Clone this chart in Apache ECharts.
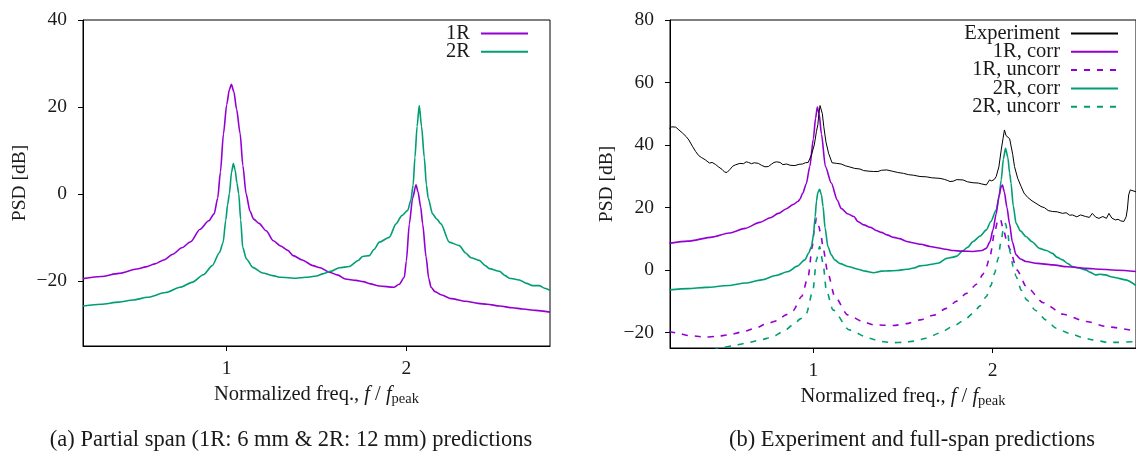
<!DOCTYPE html>
<html>
<head>
<meta charset="utf-8">
<script src="https://cdn.jsdelivr.net/npm/echarts@6/dist/echarts.min.js"></script>
<style>
html,body{margin:0;padding:0;background:#fff;}
#c{width:1136px;height:454px;}
</style>
</head>
<body>
<div id="c"></div>
<script>
// ---------- Panel (a): partial span ----------
const a1R_x = [0.20,0.30,0.40,0.50,0.55,0.60,0.65,0.70,0.75,0.80,0.85,0.90,0.93,0.95,0.965,0.982,1.00,1.015,1.026,1.04,1.055,1.075,1.09,1.108,1.13,1.15,1.18,1.22,1.26,1.30,1.34,1.37,1.42,1.48,1.52,1.57,1.62,1.66,1.72,1.76,1.80,1.85,1.93,1.96,1.989,2.00,2.017,2.035,2.054,2.065,2.08,2.091,2.11,2.125,2.138,2.16,2.193,2.25,2.33,2.40,2.45,2.52,2.59,2.65,2.72,2.80];
const a1R_y = [-19.5,-19.0,-18.3,-17.3,-16.8,-16.1,-15.2,-13.9,-12.4,-11.0,-8.2,-6.2,-4.6,-1.0,5.0,13.8,20.5,24.0,25.2,23.5,19.5,13.8,6.5,0.0,-4.0,-5.8,-6.8,-8.5,-10.8,-12.0,-13.0,-14.2,-15.2,-16.5,-17.0,-18.0,-18.7,-19.6,-19.9,-20.2,-20.7,-21.2,-21.5,-20.8,-19.2,-15.5,-6.9,-1.0,2.1,0.5,-3.0,-6.9,-14.5,-19.5,-21.5,-22.5,-23.2,-24.1,-24.7,-25.2,-25.4,-25.8,-26.2,-26.5,-26.8,-27.2];
const a2R_x = [0.20,0.30,0.40,0.48,0.56,0.66,0.74,0.81,0.87,0.92,0.96,0.98,0.995,1.005,1.015,1.027,1.037,1.047,1.057,1.067,1.078,1.089,1.11,1.145,1.20,1.256,1.30,1.386,1.44,1.50,1.534,1.58,1.627,1.683,1.73,1.757,1.794,1.82,1.85,1.905,1.943,1.975,2.008,2.025,2.038,2.048,2.06,2.072,2.085,2.10,2.112,2.122,2.146,2.17,2.193,2.239,2.295,2.33,2.36,2.406,2.44,2.462,2.518,2.55,2.573,2.629,2.67,2.703,2.74,2.77,2.80];
const a2R_y = [-25.8,-25.4,-24.9,-24.4,-23.8,-22.7,-21.5,-20.3,-18.6,-16.5,-13.5,-11.2,-6.0,-2.5,0.0,5.0,7.0,5.5,2.5,0.0,-6.0,-12.3,-15.0,-16.9,-18.2,-18.8,-19.2,-19.4,-19.2,-18.9,-18.4,-17.8,-17.0,-16.7,-15.4,-14.4,-14.2,-12.8,-11.1,-10.0,-6.9,-5.0,-3.8,-1.5,2.0,8.4,15.5,20.3,15.5,8.4,2.0,-1.0,-4.6,-5.8,-6.9,-11.1,-11.9,-13.6,-14.7,-15.3,-16.5,-17.2,-17.8,-18.8,-19.4,-19.8,-20.6,-21.1,-21.1,-21.7,-22.2];

// ---------- Panel (b): experiment and full span ----------
const bExp_x = [0.196,0.21,0.232,0.25,0.27,0.29,0.305,0.325,0.343,0.36,0.375,0.398,0.42,0.435,0.453,0.47,0.49,0.505,0.518,0.535,0.55,0.564,0.59,0.61,0.625,0.638,0.655,0.67,0.693,0.71,0.73,0.749,0.765,0.78,0.795,0.814,0.83,0.85,0.87,0.897,0.92,0.94,0.955,0.971,0.989,1.005,1.017,1.025,1.03,1.037,1.043,1.05,1.058,1.07,1.085,1.104,1.13,1.155,1.18,1.20,1.23,1.26,1.28,1.31,1.336,1.36,1.38,1.41,1.44,1.47,1.503,1.53,1.56,1.595,1.63,1.66,1.706,1.73,1.75,1.762,1.78,1.80,1.835,1.86,1.891,1.92,1.94,1.965,1.975,1.983,1.995,2.01,2.02,2.035,2.048,2.058,2.066,2.075,2.085,2.095,2.103,2.112,2.122,2.14,2.159,2.175,2.196,2.22,2.242,2.27,2.29,2.31,2.334,2.36,2.39,2.41,2.43,2.445,2.47,2.49,2.519,2.54,2.556,2.575,2.593,2.615,2.635,2.649,2.665,2.685,2.70,2.715,2.732,2.745,2.752,2.759,2.768,2.777,2.80];
const bExp_y = [45.3,45.8,45.7,44.8,43.8,42.7,41.6,39.6,37.9,36.6,36.0,35.2,34.2,34.4,33.8,33.0,32.2,31.3,31.2,32.2,33.2,33.6,34.1,34.0,34.6,34.4,34.0,34.3,34.1,33.5,33.0,33.1,33.8,34.4,34.6,34.4,33.7,33.9,33.5,33.4,33.8,33.9,34.3,34.4,36.8,40.0,44.3,46.5,49.6,52.6,53.1,50.0,45.9,41.0,37.3,34.3,34.1,33.9,33.3,33.0,32.5,32.3,31.8,31.6,31.5,31.5,31.9,32.0,31.6,31.2,30.9,30.5,30.3,29.9,29.8,29.5,29.3,29.0,28.6,28.3,28.4,28.9,28.8,28.2,27.9,27.8,27.5,27.2,27.7,28.8,28.5,29.0,29.9,33.0,38.4,42.0,44.8,43.0,42.5,42.0,41.6,37.0,33.1,29.3,26.7,24.6,23.2,22.1,21.3,20.3,19.9,19.0,18.7,18.6,18.1,18.3,17.5,17.6,17.0,17.6,17.1,16.8,18.1,16.9,16.5,17.1,16.5,18.1,16.6,16.0,16.2,15.7,15.5,17.0,19.5,24.0,25.6,25.3,25.0];
const b1Rc_x = [0.196,0.30,0.435,0.53,0.62,0.70,0.76,0.804,0.85,0.89,0.915,0.925,0.94,0.96,0.98,1.00,1.012,1.022,1.032,1.045,1.067,1.10,1.133,1.155,1.19,1.226,1.248,1.281,1.32,1.35,1.38,1.41,1.45,1.48,1.521,1.56,1.60,1.651,1.70,1.74,1.78,1.83,1.891,1.94,1.965,1.985,2.002,2.02,2.035,2.047,2.055,2.065,2.08,2.094,2.11,2.131,2.155,2.186,2.25,2.334,2.42,2.519,2.60,2.70,2.80];
const b1Rc_y = [8.5,9.2,10.5,11.8,13.3,15.2,16.7,18.1,19.6,21.0,22.0,22.6,24.5,27.5,33.1,42.0,48.5,52.1,50.0,43.5,33.1,27.8,22.4,19.7,18.0,17.1,15.5,14.4,13.6,12.6,12.0,11.2,10.4,10.0,9.1,8.6,8.2,7.5,7.0,6.6,6.2,6.0,5.9,6.2,6.9,9.0,12.8,18.0,23.5,26.5,27.2,25.0,20.0,14.9,9.0,4.8,3.5,2.7,2.1,1.6,1.0,0.5,0.2,-0.1,-0.5];
const b1Ru_x = [0.196,0.25,0.30,0.398,0.46,0.527,0.60,0.675,0.74,0.795,0.85,0.887,0.934,0.971,0.994,1.006,1.017,1.03,1.044,1.054,1.081,1.119,1.192,1.275,1.336,1.447,1.52,1.595,1.67,1.743,1.80,1.854,1.913,1.945,1.965,1.987,2.011,2.03,2.043,2.06,2.08,2.098,2.135,2.19,2.283,2.394,2.519,2.65,2.80];
const b1Ru_y = [-19.7,-20.3,-21.0,-21.5,-21.3,-20.8,-19.9,-18.7,-17.2,-16.3,-14.3,-13.0,-8.5,-2.1,7.5,13.5,16.5,14.0,10.5,7.0,-1.1,-8.5,-14.4,-16.5,-17.6,-17.8,-17.2,-16.0,-14.5,-12.3,-10.0,-7.5,-4.5,-1.5,1.0,4.8,12.0,16.0,16.3,13.0,9.0,6.4,0.0,-5.5,-10.5,-14.2,-16.5,-18.3,-19.6];
const b2Rc_x = [0.196,0.30,0.40,0.527,0.62,0.712,0.79,0.86,0.91,0.952,0.975,0.989,1.00,1.01,1.017,1.025,1.035,1.045,1.054,1.065,1.081,1.10,1.119,1.15,1.192,1.248,1.29,1.336,1.38,1.42,1.466,1.521,1.56,1.595,1.63,1.669,1.70,1.743,1.78,1.80,1.835,1.86,1.891,1.93,1.965,1.99,2.02,2.035,2.048,2.06,2.072,2.085,2.095,2.103,2.115,2.131,2.155,2.186,2.22,2.261,2.30,2.334,2.36,2.39,2.42,2.445,2.48,2.519,2.545,2.574,2.60,2.63,2.66,2.704,2.74,2.80];
const b2Rc_y = [-6.4,-6.0,-5.6,-5.0,-4.2,-3.2,-1.8,-0.5,1.2,3.2,5.5,7.5,11.0,17.0,22.0,24.8,25.8,24.0,20.3,13.5,7.5,4.8,3.2,2.0,1.1,0.2,-0.4,-0.9,-0.4,-0.3,-0.2,0.2,0.6,1.3,1.5,1.9,2.2,3.7,4.1,4.4,6.2,7.2,9.1,10.8,12.8,15.5,19.2,23.0,28.8,35.5,38.9,36.0,31.0,27.7,20.5,14.9,12.5,10.7,9.0,6.9,6.2,5.3,4.0,3.2,2.0,1.1,0.6,0.0,-0.8,-1.6,-1.4,-1.6,-2.2,-2.7,-3.2,-5.0];
const b2Ru_x = [0.30,0.40,0.49,0.55,0.62,0.70,0.77,0.83,0.887,0.93,0.961,0.998,1.017,1.035,1.054,1.072,1.109,1.20,1.313,1.373,1.44,1.503,1.56,1.632,1.70,1.78,1.84,1.891,1.93,1.965,1.99,2.011,2.03,2.045,2.06,2.072,2.085,2.098,2.115,2.131,2.16,2.19,2.24,2.297,2.356,2.427,2.50,2.556,2.649,2.70,2.80];
const b2Ru_y = [-28.5,-26.3,-24.9,-24.3,-23.5,-22.5,-21.5,-19.8,-17.6,-15.6,-13.9,-6.4,3.2,7.5,2.1,-6.4,-12.8,-19.2,-21.9,-22.9,-23.3,-23.2,-22.8,-21.9,-20.3,-18.1,-16.2,-13.9,-11.5,-8.5,-5.0,-1.1,3.5,8.5,13.0,14.8,11.5,5.5,1.0,-2.1,-6.5,-9.6,-13.0,-16.0,-18.7,-20.3,-21.6,-22.4,-23.2,-23.2,-22.9];

// tick labels
const aYTicks = [-20, 0, 20, 40];
const bYTicks = [-20, 0, 20, 40, 60, 80];
const xTicks = [1, 2];
const captionA = '(a) Partial span (1R: 6 mm & 2R: 12 mm) predictions';
const captionB = '(b) Experiment and full-span predictions';

const PURPLE = '#9400D3', GREEN = '#009E73', BLACK = '#000000';
const FONT = 'Liberation Serif';
const FS = 19.5;      // tick labels, y-axis names
const NAME_FS = 20.5; // x-axis names, legend
const CAP_FS = 22.5;  // captions
const TXT = '#1a1a1a';

const zip = (xs, ys) => xs.map((x, i) => [x, ys[i]]);
const minusFmt = v => (v < 0 ? '\u2212' + Math.abs(v) : String(v));

function xAxisCfg(gi) {
  return {
    type: 'value', gridIndex: gi, min: 0.2, max: 2.8,
    splitLine: { show: false },
    axisLine: { show: true, onZero: false, lineStyle: { color: '#000', width: 1 } },
    axisTick: { show: true, inside: false, length: 5, lineStyle: { color: '#000' }, customValues: xTicks },
    axisLabel: { show: true, margin: 13, color: TXT, fontFamily: FONT, fontSize: FS, customValues: xTicks, formatter: v => String(v) },
    name: 'Normalized freq., {it|f}{sl| / }{it|f}{sub|peak}',
    nameLocation: 'middle', nameGap: 34,
    nameTextStyle: {
      color: TXT, fontFamily: FONT, fontSize: NAME_FS,
      rich: {
        it: { fontStyle: 'italic', fontFamily: FONT, fontSize: NAME_FS, color: TXT },
        sl: { fontFamily: FONT, fontSize: NAME_FS, color: TXT },
        sub: { fontFamily: FONT, fontSize: 14.5, color: TXT, padding: [9, 0, 0, 0] }
      }
    }
  };
}
function yAxisCfg(gi, min, max, ticks) {
  return {
    type: 'value', gridIndex: gi, min: min, max: max,
    splitLine: { show: false },
    axisLine: { show: true, onZero: false, lineStyle: { color: '#000', width: 1 } },
    axisTick: { show: true, inside: false, length: 5, lineStyle: { color: '#000' }, customValues: ticks },
    axisLabel: { show: true, margin: 16, color: TXT, fontFamily: FONT, fontSize: FS, customValues: ticks, formatter: minusFmt },
    name: 'PSD [dB]', nameLocation: 'middle', nameGap: 53,
    nameTextStyle: { color: TXT, fontFamily: FONT, fontSize: FS }
  };
}
function lineSeries(name, xs, ys, color, gi, opts) {
  opts = opts || {};
  return {
    name: name, type: 'line', xAxisIndex: gi, yAxisIndex: gi,
    data: zip(xs, ys), symbol: 'none', showSymbol: false,
    smooth: opts.smooth === undefined ? 0.25 : opts.smooth,
    smoothMonotone: 'x',
    clip: true, animation: false,
    lineStyle: { color: color, width: opts.width || 1.6, type: opts.dash ? [6, 7] : 'solid' },
    itemStyle: { color: color },
    z: opts.z || 2
  };
}

const legendText = { color: TXT, fontFamily: FONT, fontSize: NAME_FS, padding: [0, 6, 0, 0] };
const legendCommon = {
  orient: 'vertical', align: 'right', padding: 0, itemWidth: 47, itemHeight: 14, itemGap: -2.7,
  textStyle: legendText, selectedMode: false, itemStyle: { opacity: 0 }
};

const option = {
  animation: false,
  backgroundColor: '#ffffff',
  grid: [
    { left: 83, top: 20, width: 467, height: 326, show: true, borderColor: '#000', borderWidth: 1, containLabel: false },
    { left: 670, top: 20, width: 467, height: 328, show: true, borderColor: '#000', borderWidth: 1, containLabel: false }
  ],
  xAxis: [xAxisCfg(0), xAxisCfg(1)],
  yAxis: [yAxisCfg(0, -35, 40, aYTicks), yAxisCfg(1, -25, 80, bYTicks)],
  legend: [
    Object.assign({}, legendCommon, { right: 607, top: 23, data: ['1R', '2R'] }),
    Object.assign({}, legendCommon, { right: 17, top: 23, data: ['Experiment', '1R, corr', '1R, uncorr', '2R, corr', '2R, uncorr'] })
  ],
  series: [
    lineSeries('1R', a1R_x, a1R_y, PURPLE, 0),
    lineSeries('2R', a2R_x, a2R_y, GREEN, 0),
    lineSeries('Experiment', bExp_x, bExp_y, BLACK, 1, { smooth: false, width: 1, z: 5 }),
    lineSeries('1R, corr', b1Rc_x, b1Rc_y, PURPLE, 1, { z: 4 }),
    lineSeries('1R, uncorr', b1Ru_x, b1Ru_y, PURPLE, 1, { dash: true }),
    lineSeries('2R, corr', b2Rc_x, b2Rc_y, GREEN, 1, { z: 3 }),
    lineSeries('2R, uncorr', b2Ru_x, b2Ru_y, GREEN, 1, { dash: true })
  ],
  graphic: [
    { type: 'text', x: 291, y: 440, style: { text: captionA, fontFamily: FONT, fontSize: CAP_FS, fill: TXT, align: 'center', verticalAlign: 'middle' } },
    { type: 'text', x: 912, y: 440, style: { text: captionB, fontFamily: FONT, fontSize: CAP_FS, fill: TXT, align: 'center', verticalAlign: 'middle' } }
  ]
};

const chart = echarts.init(document.getElementById('c'), null, { renderer: 'canvas' });
chart.setOption(option);
</script>
</body>
</html>
